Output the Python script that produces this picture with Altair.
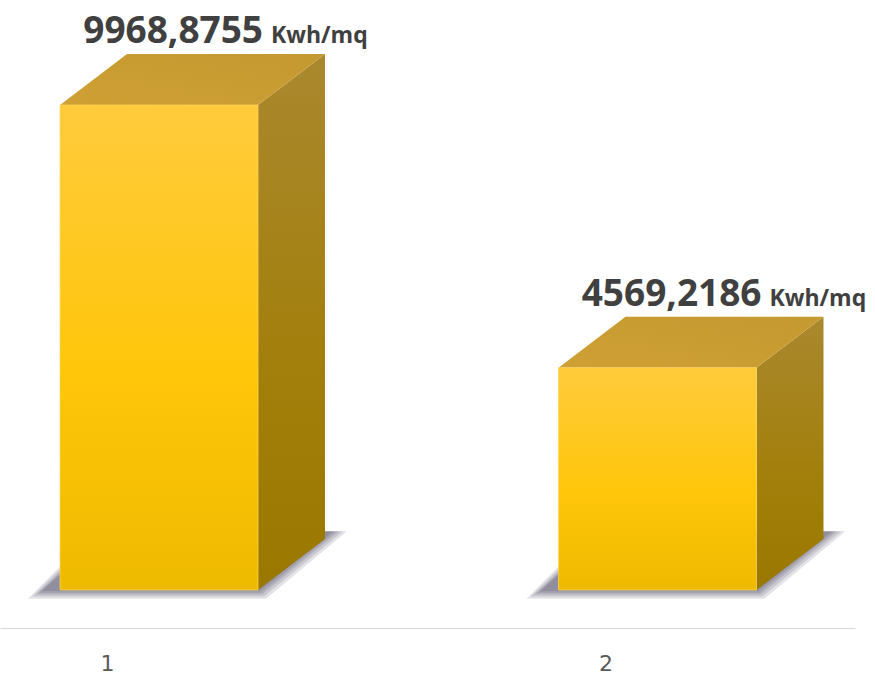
import altair as alt
import pandas as pd

# Chart values
categories = [1, 2]
values = [9968.8755, 4569.2186]
unit = "Kwh/mq"

# Layout of the pseudo-3D boxes (in scale units)
HALF = 0.1986      # half the width of the front face
DX = 0.1344        # horizontal depth of the box
DV = 1048          # vertical depth of the box (value units)
X_DOMAIN = [0.6810, 2.3962]
Y_DOMAIN = [-781, 12127]
PX_X = 1 / 498.5   # one pixel in x units
PX_Y = 20.554      # one pixel in y units

xs = alt.Scale(domain=X_DOMAIN, nice=False, zero=False)
ys = alt.Scale(domain=Y_DOMAIN, nice=False, zero=False)
x_axis = alt.Axis(
    values=categories, format="d", grid=False, ticks=False, tickSize=0,
    domainColor="#d9d9d9", domainWidth=1.2, title=None,
    labelFont="DejaVu Sans", labelFontSize=22, labelColor="#595959",
    labelPadding=25, labelOffset=-52,
)

bars = pd.DataFrame({"cat": categories, "value": values})
bars["left"] = bars["cat"] - HALF
bars["right"] = bars["cat"] + HALF
bars["top_back"] = bars["value"] + DV
bars["label"] = [f"{v:.4f}".replace(".", ",") for v in values]
bars["unit"] = unit

side_rows, top_rows, shadow_rows = [], [], []
for c, v in zip(categories, values):
    side_rows += [
        {"cat": c, "x": c + HALF, "y": v, "y2": 0},
        {"cat": c, "x": c + HALF + DX, "y": v + DV, "y2": DV},
    ]
    top_rows += [
        {"cat": c, "y": v, "x": c - HALF, "x2": c + HALF},
        {"cat": c, "y": v + DV, "x": c - HALF + DX, "x2": c + HALF + DX},
    ]
    # soft floor shadow: stacked translucent footprints of growing size
    for k, grow in enumerate([16, 12, 8, 5, 2]):
        shift = 16 * PX_X
        shadow_rows += [
            {"grp": c * 10 + k, "y": -grow * 0.55 * PX_Y,
             "x": c - HALF - shift - grow * PX_X, "x2": c + HALF + grow * 0.5 * PX_X},
            {"grp": c * 10 + k, "y": DV * 1.15,
             "x": c - HALF + DX - shift - grow * PX_X,
             "x2": c + HALF + DX + (6 + grow) * PX_X},
        ]

side = pd.DataFrame(side_rows)
top = pd.DataFrame(top_rows)
shadow = pd.DataFrame(shadow_rows)

shadow_layer = alt.Chart(shadow).mark_area(
    orient="horizontal", color="#241c3a", opacity=0.13
).encode(
    y=alt.Y("y:Q", scale=ys, axis=None),
    x=alt.X("x:Q", scale=xs, axis=x_axis),
    x2="x2:Q",
    detail="grp:N",
)

front_grad = alt.Gradient(
    gradient="linear", x1=0, y1=0, x2=0, y2=1,
    stops=[
        alt.GradientStop(color="#FFCB3C", offset=0),
        alt.GradientStop(color="#FFC60A", offset=0.55),
        alt.GradientStop(color="#EEBA00", offset=1),
    ],
)
side_grad = alt.Gradient(
    gradient="linear", x1=0, y1=0, x2=0, y2=1,
    stops=[
        alt.GradientStop(color="#AA882E", offset=0),
        alt.GradientStop(color="#A27F0A", offset=0.6),
        alt.GradientStop(color="#9A7800", offset=1),
    ],
)
top_grad = alt.Gradient(
    gradient="linear", x1=0, y1=1, x2=1, y2=0,
    stops=[
        alt.GradientStop(color="#CFA034", offset=0),
        alt.GradientStop(color="#C49930", offset=1),
    ],
)

front = alt.Chart(bars).mark_bar(
    color=front_grad, stroke="#FFD75A", strokeWidth=1, strokeOpacity=0.7
).encode(
    x=alt.X("left:Q", scale=xs, axis=x_axis),
    x2="right:Q",
    y=alt.Y("value:Q", scale=ys, axis=None),
    y2=alt.datum(0),
)

side_layer = alt.Chart(side).mark_area(color=side_grad).encode(
    x=alt.X("x:Q", scale=xs, axis=x_axis),
    y=alt.Y("y:Q", scale=ys, axis=None),
    y2="y2:Q",
    detail="cat:N",
)

top_layer = alt.Chart(top).mark_area(orient="horizontal", color=top_grad).encode(
    y=alt.Y("y:Q", scale=ys, axis=None),
    x=alt.X("x:Q", scale=xs, axis=x_axis),
    x2="x2:Q",
    detail="cat:N",
)

number_text = alt.Chart(bars).mark_text(
    align="right", baseline="alphabetic", dx=104, dy=-11,
    font="Open Sans", fontWeight="bold", fontSize=37, color="#404040",
).encode(
    x=alt.X("cat:Q", scale=xs, axis=x_axis),
    y=alt.Y("top_back:Q", scale=ys, axis=None),
    text="label:N",
)

unit_text = alt.Chart(bars).mark_text(
    align="left", baseline="alphabetic", dx=112, dy=-11,
    font="Open Sans", fontWeight="bold", fontSize=23, color="#404040",
).encode(
    x=alt.X("cat:Q", scale=xs, axis=x_axis),
    y=alt.Y("top_back:Q", scale=ys, axis=None),
    text="unit:N",
)

chart = alt.layer(
    shadow_layer, side_layer, top_layer, front, number_text, unit_text
).properties(
    width=855,
    height=628,
    autosize=alt.AutoSizeParams(type="none"),
    padding={"left": 0, "top": 0, "right": 20, "bottom": 48},
    background="white",
).configure_view(stroke=None)

chart.save("out.html", embed_options={"renderer": "svg", "actions": False})
